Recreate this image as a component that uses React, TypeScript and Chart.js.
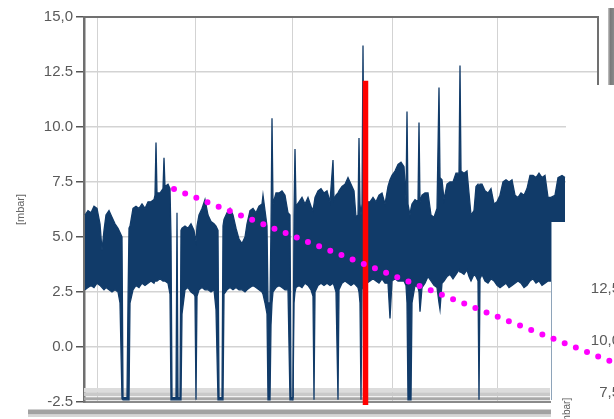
import React, { useEffect, useRef } from 'react';
import { Chart, registerables } from 'chart.js';

Chart.register(...registerables);

// time axis (arbitrary sample units) with max / min envelope of the pressure signal [mbar]
const sampleTime = [
  85, 88, 91, 94, 97, 100, 102, 104, 106, 109, 112, 115, 118, 120, 122, 123, 127, 128, 129, 130,
  133, 136, 139, 142, 145, 148, 151, 154, 155, 156, 157, 160, 163, 164, 165, 168, 170, 171, 172, 176,
  177, 178, 180, 181, 182, 185, 188, 191, 194, 195, 196, 197, 199, 202, 205, 208, 211, 214, 216, 218,
  219, 222, 223, 224, 227, 230, 233, 236, 239, 242, 245, 247, 250, 253, 256, 259, 262, 263, 265, 267,
  268, 270, 271, 272, 273, 276, 279, 282, 285, 288, 290, 291, 293, 294, 295, 296, 299, 302, 305, 308,
  311, 313, 314, 315, 318, 321, 324, 327, 330, 333, 334, 336, 338, 339, 342, 345, 348, 351, 354, 356,
  358, 359, 360, 361, 362, 363, 364, 367, 370, 373, 376, 379, 382, 385, 388, 390, 392, 395, 398, 401,
  404, 406, 407, 408, 410, 411, 412, 415, 418, 419, 420, 422, 425, 428, 431, 434, 437, 439, 440, 442,
  444, 447, 450, 453, 456, 459, 460, 461, 464, 467, 469, 471, 474, 476, 478, 479, 480, 482, 485, 488,
  491, 494, 497, 500, 503, 506, 509, 512, 515, 518, 521, 524, 527, 530, 533, 536, 539, 542, 545, 548,
  551, 555, 558, 562, 565,
];

const upperEnvelope = [
  6.0, 6.2, 6.1, 6.4, 6.3, 5.6, 4.4, 5.3, 6.0, 6.2, 5.9, 5.6, 5.4, 5.2, 5.0, -2.3, -2.3, 2.0, 5.4, 5.5,
  6.3, 6.4, 6.3, 6.5, 6.3, 6.6, 6.6, 6.7, 6.9, 9.3, 7.0, 7.0, 7.2, 8.6, 7.3, 7.4, 7.2, 5.0, -2.3, -2.3,
  6.1, -2.3, -2.3, 5.3, 5.4, 5.5, 5.4, 5.6, 5.3, 5.0, 4.8, 5.5, 6.0, 6.3, 6.7, 6.0, 5.7, 5.6, 5.5, 5.3,
  -2.3, -2.3, 5.5, 5.8, 6.1, 6.3, 6.0, 5.4, 4.9, 4.7, 5.0, 5.6, 6.2, 6.3, 6.1, 6.4, 6.5, 6.9, 6.2, 5.5,
  2.0, 2.0, 5.5, 10.4, 6.5, 7.0, 7.0, 7.1, 6.9, 6.1, 6.0, -2.3, -2.3, 6.0, 9.0, 6.4, 6.6, 6.8, 6.5, 6.8,
  6.4, 6.2, 6.5, 6.8, 7.1, 7.2, 7.0, 7.1, 6.6, 8.5, 6.7, 6.9, 7.0, 7.1, 7.3, 7.4, 7.7, 7.4, 7.1, 5.9,
  6.0, 9.5, 6.5, 6.0, 6.5, 13.7, 6.8, 6.6, 6.6, 6.8, 6.6, 6.9, 7.0, 6.5, 7.3, 7.6, 7.8, 8.0, 8.3, 8.4,
  8.2, 6.7, 10.7, 6.5, 6.0, 6.3, 6.5, 6.7, 6.6, 10.2, 6.6, 6.9, 7.0, 7.0, 6.0, 5.9, 6.3, 11.8, 7.7, 7.6,
  6.7, 7.4, 7.5, 7.5, 7.9, 7.9, 12.8, 8.0, 7.9, 8.0, 7.0, 6.0, 6.2, 7.3, 7.4, 7.3, 7.4, 7.4, 7.1, 7.0,
  7.2, 6.5, 6.6, 6.9, 7.5, 7.6, 7.5, 7.6, 6.9, 6.8, 7.0, 6.9, 7.2, 7.8, 7.8, 7.7, 7.9, 7.7, 7.8, 6.8,
  6.8, 6.9, 7.7, 7.8, 7.7,
];

const lowerEnvelope = [
  2.6, 2.7, 2.8, 2.7, 2.9, 2.8, 2.7, 2.6, 2.7, 2.6, 2.5, 2.6, 2.5, 2.0, -2.35, -2.4, -2.4, -2.4, -2.4, 2.0,
  2.6, 2.8, 2.7, 2.9, 2.8, 2.9, 3.0, 2.9, 3.0, 3.0, 3.0, 3.1, 3.0, 3.0, 3.0, 2.9, 2.4, -2.4, -2.4, -2.4,
  -2.4, -2.4, -2.4, -2.4, 1.5, 2.6, 2.7, 2.5, 2.4, 2.3, -2.4, 2.3, 2.6, 2.7, 2.6, 2.6, 2.5, 2.6, 1.7, -2.4,
  -2.4, -2.4, -2.4, 2.4, 2.6, 2.7, 2.6, 2.7, 2.6, 2.6, 2.5, 2.6, 2.7, 2.8, 2.7, 2.6, 2.5, 2.4, 2.0, 1.5,
  -2.4, -2.4, 1.0, 2.0, 2.5, 2.7, 2.8, 2.7, 2.6, 2.6, -2.4, -2.4, -2.4, 2.0, 2.5, 2.7, 2.8, 2.7, 2.9, 2.8,
  2.6, 2.3, -2.4, 2.5, 2.8, 2.9, 2.8, 2.9, 2.8, 2.9, 2.8, 2.5, -2.4, 2.6, 2.9, 3.0, 2.9, 2.8, 2.9, 2.8,
  2.7, 2.5, 2.0, -2.4, 2.6, 2.8, 2.9, 2.9, 3.0, 3.1, 3.0, 2.9, 3.1, 2.9, 2.9, 1.3, 3.0, 3.1, 3.0, 3.0,
  3.0, 2.8, 2.0, -2.4, -2.4, -2.4, 2.0, 2.8, 2.7, 2.5, 1.6, 2.7, 2.9, 3.2, 3.0, 2.8, 2.7, 2.0, 1.7, 2.9,
  3.0, 3.2, 3.3, 3.1, 3.3, 3.5, 3.4, 3.4, 3.3, 3.5, 3.2, 3.0, 3.3, 3.2, 3.0, -2.4, 3.1, 3.3, 3.0, 2.9,
  3.1, 3.0, 2.8, 2.7, 2.8, 2.9, 2.7, 2.8, 2.9, 3.0, 2.9, 2.7, 2.8, 3.0, 3.1, 2.9, 3.0, 2.8, 2.9, 3.0,
  3.0, 3.0, 3.1, 3.0, 3.0,
];

const yTickLabels = ['-2.5', '0.0', '2.5', '5.0', '7.5', '10.0', '12.5', '15,0'];
const xGridTimes = [97, 195, 292, 392, 497];
const cursorTime = [365.5, 365.5];
const cursorValues = [-2.64, 12.1];
const trendTime = [174, 620];
const trendValues = [7.18, -0.82];
const baseTrackTime = [84, 550];
const baseTrackLevels = [-1.95, -2.15, -2.35];
const secondAxisLabels = ['12,5', '10,0', '7,5'];

const NAVY = '#113b69';
const FONT = '"Liberation Sans", Arial, sans-serif';

export default function App() {
  const ref = useRef<HTMLCanvasElement>(null);

  useEffect(() => {
    const canvas = ref.current;
    if (!canvas) return;
    const toXY = (xs: number[], ys: number[]) => xs.map((x, i) => ({ x, y: ys[i] }));
    const trackColors = ['#dcdcdc', '#c9c9c9', '#a8a8a8'];
    const trackWidths = [4, 4, 3];

    const decor = {
      id: 'decor',
      beforeDatasetDraw(chart: any, args: any) {
        if (args.index !== 0) return;
        const ctx = chart.ctx as CanvasRenderingContext2D;
        ctx.save();
        ctx.fillStyle = '#ffffff';
        ctx.fillRect(566, 85, 48, 334);
        ctx.fillRect(551, 222, 63, 197);
        ctx.strokeStyle = '#8ea4ba';
        ctx.lineWidth = 1;
        ctx.beginPath();
        ctx.moveTo(551.5, 222);
        ctx.lineTo(551.5, 400);
        ctx.stroke();
        ctx.restore();
      },
      afterDraw(chart: any) {
        const ctx = chart.ctx as CanvasRenderingContext2D;
        const a = chart.chartArea;
        ctx.save();
        // frame
        ctx.strokeStyle = '#707070';
        ctx.lineWidth = 2;
        ctx.beginPath();
        ctx.moveTo(a.left, a.top);
        ctx.lineTo(a.right, a.top);
        ctx.lineTo(a.right, 85);
        ctx.stroke();
        // bottom rail
        ctx.strokeStyle = '#a2a2a2';
        ctx.lineWidth = 5;
        ctx.beginPath();
        ctx.moveTo(28, 412);
        ctx.lineTo(551, 412);
        ctx.stroke();
        ctx.strokeStyle = '#d6d6d6';
        ctx.lineWidth = 2;
        ctx.beginPath();
        ctx.moveTo(28, 416);
        ctx.lineTo(551, 416);
        ctx.stroke();
        // neighbouring window edge
        const g = ctx.createLinearGradient(608, 0, 614, 0);
        g.addColorStop(0, '#c8c8c8');
        g.addColorStop(0.4, '#7a7a7a');
        g.addColorStop(1, '#8a8a8a');
        ctx.fillStyle = g;
        ctx.fillRect(608, 8, 6, 77);
        // second chart axis labels
        ctx.fillStyle = '#5a5a5a';
        ctx.font = `15px ${FONT}`;
        ctx.textAlign = 'right';
        ctx.textBaseline = 'middle';
        secondAxisLabels.forEach((t, i) => ctx.fillText(t, 620, 289 + 52 * i));
        ctx.translate(567, 412);
        ctx.rotate(-Math.PI / 2);
        ctx.font = `10px ${FONT}`;
        ctx.textAlign = 'center';
        ctx.fillText('[mbar]', 0, 0);
        ctx.restore();
      },
    };

    const chart = new Chart(canvas, {
      type: 'line',
      data: {
        datasets: [
          {
            label: 'trend',
            data: toXY(trendTime, trendValues),
            borderColor: '#ff00ff',
            borderWidth: 6,
            borderDash: [0, 12],
            borderCapStyle: 'round',
            pointRadius: 0,
            fill: false,
            clip: false,
          } as any,
          {
            label: 'cursor',
            data: toXY(cursorTime, cursorValues),
            borderColor: '#ff0000',
            borderWidth: 5.5,
            pointRadius: 0,
            fill: false,
            clip: false,
          } as any,
          {
            label: 'min',
            data: toXY(sampleTime, lowerEnvelope),
            borderColor: NAVY,
            borderWidth: 1.3,
            pointRadius: 0,
            fill: false,
          },
          {
            label: 'max',
            data: toXY(sampleTime, upperEnvelope),
            borderColor: NAVY,
            backgroundColor: NAVY,
            borderWidth: 1.3,
            pointRadius: 0,
            fill: '-1',
          },
          ...baseTrackLevels.map((lv, i) => ({
            label: 'track' + i,
            data: baseTrackTime.map((x) => ({ x, y: lv })),
            borderColor: trackColors[i],
            borderWidth: trackWidths[i],
            pointRadius: 0,
            fill: false,
          })),
        ],
      },
      options: {
        responsive: false,
        animation: false,
        events: [],
        layout: { padding: { left: 0, top: 17, right: 16, bottom: 17 } },
        plugins: { legend: { display: false }, tooltip: { enabled: false } },
        scales: {
          x: {
            type: 'linear',
            min: 84,
            max: 598,
            afterBuildTicks: (s: any) => {
              s.ticks = xGridTimes.map((v) => ({ value: v }));
            },
            afterFit: (s: any) => {
              s.height = 0;
            },
            ticks: { display: false },
            grid: { color: '#d3d3d3', lineWidth: 1, drawTicks: false },
            border: { display: true, color: '#8a8a8a', width: 2 },
          },
          y: {
            min: -2.5,
            max: 15,
            afterFit: (s: any) => {
              s.width = 84;
            },
            ticks: {
              stepSize: 2.5,
              padding: 3,
              color: '#5a5a5a',
              font: { family: FONT, size: 15 },
              callback: (_v: any, i: number) => yTickLabels[i],
            },
            grid: { color: '#d3d3d3', lineWidth: 1.5, tickLength: 8, tickColor: '#555555', tickWidth: 1.5 },
            border: { color: '#6f6f6f', width: 2.5 },
            title: {
              display: true,
              text: '[mbar]',
              color: '#666666',
              font: { family: FONT, size: 11 },
              padding: { top: 14, bottom: 0 },
            },
          },
        },
      } as any,
      plugins: [decor],
    });

    return () => chart.destroy();
  }, []);

  return (
    <div style={{ position: 'fixed', left: 0, top: 0, width: 614, height: 419, background: '#ffffff' }}>
      <canvas ref={ref} width={614} height={419} style={{ display: 'block' }} />
    </div>
  );
}
